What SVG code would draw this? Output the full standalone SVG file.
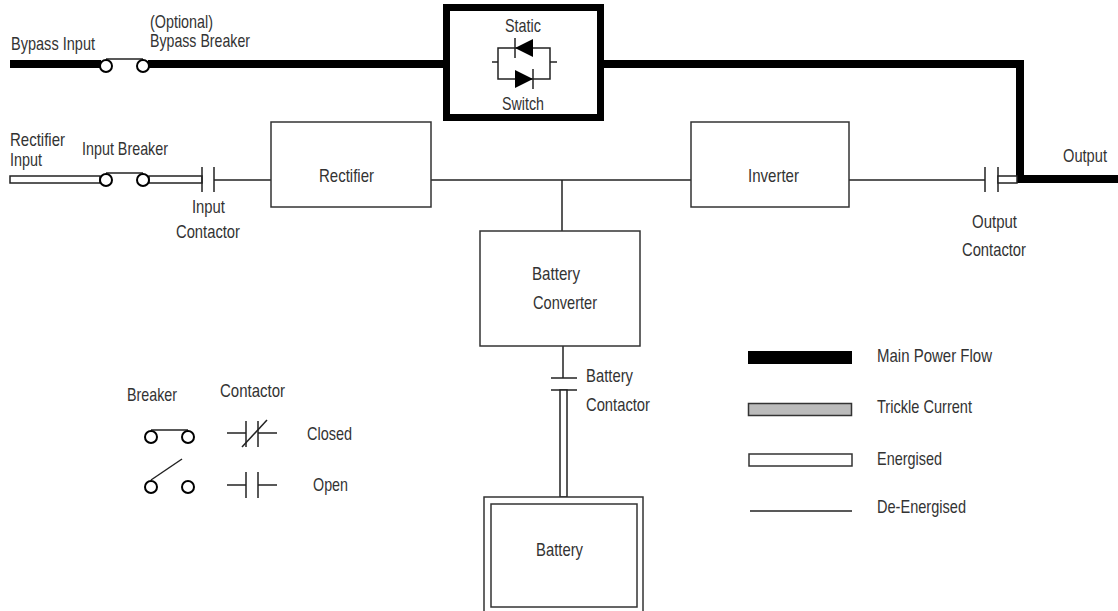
<svg xmlns="http://www.w3.org/2000/svg" width="1118" height="611" viewBox="0 0 1118 611">
<style>
text{font-family:"Liberation Sans",Arial,sans-serif;font-size:19px;fill:#333;}
.box{fill:#fff;stroke:#333;stroke-width:1.5;}
.thin{fill:none;stroke:#222;stroke-width:1.5;}
.main{fill:none;stroke:#000;stroke-width:8;}
.ener{fill:#fff;stroke:#222;stroke-width:1.5;}
.brk{fill:#fff;stroke:#000;stroke-width:2;}
.blk{fill:#000;stroke:none;}
</style>
<rect width="1118" height="611" fill="#fff"/>
<g id="connectors">
  <line class="main" x1="10" y1="64" x2="101" y2="64"/>
  <line class="main" x1="148" y1="64" x2="446" y2="64"/>
  <polyline class="main" points="602,64 1020,64 1020,179 1118,179"/>
  <rect class="ener" x="10" y="176" width="90" height="7"/>
  <rect class="ener" x="149" y="176" width="53" height="7"/>
  <line class="thin" x1="202" y1="167" x2="202" y2="192"/>
  <line class="thin" x1="214" y1="167" x2="214" y2="192"/>
  <line class="thin" x1="214" y1="180" x2="272" y2="180"/>
  <line class="thin" x1="431" y1="180" x2="691" y2="180"/>
  <line class="thin" x1="562" y1="180" x2="562" y2="231"/>
  <line class="thin" x1="849" y1="180" x2="985" y2="180"/>
  <line class="thin" x1="985" y1="167" x2="985" y2="192"/>
  <line class="thin" x1="998" y1="167" x2="998" y2="192"/>
  <rect class="ener" x="998" y="176" width="19" height="7"/>
  <line class="thin" x1="563" y1="346" x2="563" y2="378"/>
  <line class="thin" x1="551" y1="378" x2="577" y2="378"/>
  <line class="thin" x1="551" y1="390" x2="577" y2="390"/>
  <rect class="ener" x="560" y="390" width="7" height="107"/>
</g>
<g id="bypass-breaker">
  <line class="thin" x1="106" y1="59" x2="143" y2="59"/>
  <circle class="brk" cx="106" cy="66" r="6"/>
  <circle class="brk" cx="143" cy="66" r="6"/>
</g>
<g id="input-breaker">
  <line class="thin" x1="106" y1="173" x2="143" y2="173"/>
  <circle class="brk" cx="106" cy="180" r="6"/>
  <circle class="brk" cx="143" cy="180" r="6"/>
</g>
<g id="static-switch">
  <rect x="446.5" y="7.5" width="154" height="110" fill="#fff" stroke="#000" stroke-width="7"/>
  <text x="505" y="31.5" textLength="36" lengthAdjust="spacingAndGlyphs">Static</text>
  <text x="502" y="110" textLength="42" lengthAdjust="spacingAndGlyphs">Switch</text>
  <rect class="thin" x="498" y="48" width="52" height="31"/>
  <line class="thin" x1="492" y1="62" x2="498" y2="62"/>
  <line class="thin" x1="550" y1="62" x2="557" y2="62"/>
  <polygon class="blk" points="515,48 533,39 533,57"/>
  <line class="thin" x1="515" y1="38" x2="515" y2="58"/>
  <polygon class="blk" points="515,70 515,88 533,79"/>
  <line class="thin" x1="533" y1="69" x2="533" y2="89"/>
</g>
<g id="rectifier">
  <rect class="box" x="271" y="122" width="160" height="85"/>
  <text x="319" y="182" textLength="55" lengthAdjust="spacingAndGlyphs">Rectifier</text>
</g>
<g id="inverter">
  <rect class="box" x="691" y="122" width="158" height="85"/>
  <text x="748" y="182" textLength="51" lengthAdjust="spacingAndGlyphs">Inverter</text>
</g>
<g id="battery-converter">
  <rect class="box" x="480" y="231" width="160" height="115"/>
  <text x="532" y="280" textLength="48" lengthAdjust="spacingAndGlyphs">Battery</text>
  <text x="533" y="309" textLength="64" lengthAdjust="spacingAndGlyphs">Converter</text>
</g>
<g id="battery">
  <rect class="box" x="484" y="497" width="159" height="120"/>
  <rect class="box" x="491" y="504" width="146" height="103"/>
  <text x="536" y="556" textLength="47" lengthAdjust="spacingAndGlyphs">Battery</text>
</g>
<g id="labels">
  <text x="11" y="50" textLength="84" lengthAdjust="spacingAndGlyphs">Bypass Input</text>
  <text x="150" y="28" textLength="63" lengthAdjust="spacingAndGlyphs">(Optional)</text>
  <text x="150" y="47" textLength="100" lengthAdjust="spacingAndGlyphs">Bypass Breaker</text>
  <text x="10" y="146" textLength="55" lengthAdjust="spacingAndGlyphs">Rectifier</text>
  <text x="10" y="166" textLength="32" lengthAdjust="spacingAndGlyphs">Input</text>
  <text x="82" y="155" textLength="86" lengthAdjust="spacingAndGlyphs">Input Breaker</text>
  <text x="192" y="213" textLength="33" lengthAdjust="spacingAndGlyphs">Input</text>
  <text x="176" y="238" textLength="64" lengthAdjust="spacingAndGlyphs">Contactor</text>
  <text x="1063" y="161.5" textLength="44" lengthAdjust="spacingAndGlyphs">Output</text>
  <text x="972" y="228" textLength="45" lengthAdjust="spacingAndGlyphs">Output</text>
  <text x="962" y="256" textLength="64" lengthAdjust="spacingAndGlyphs">Contactor</text>
  <text x="586" y="382" textLength="47" lengthAdjust="spacingAndGlyphs">Battery</text>
  <text x="586" y="411" textLength="64" lengthAdjust="spacingAndGlyphs">Contactor</text>
</g>
<g id="legend-switches">
  <text x="127" y="401" textLength="50" lengthAdjust="spacingAndGlyphs">Breaker</text>
  <text x="220" y="397" textLength="65" lengthAdjust="spacingAndGlyphs">Contactor</text>
  <line class="thin" x1="151" y1="430" x2="188" y2="430"/>
  <circle class="brk" cx="151" cy="437" r="6"/>
  <circle class="brk" cx="188" cy="437" r="6"/>
  <line class="thin" x1="227" y1="433" x2="246" y2="433"/>
  <line class="thin" x1="246" y1="421" x2="246" y2="447"/>
  <line class="thin" x1="258" y1="421" x2="258" y2="447"/>
  <line class="thin" x1="258" y1="433" x2="277" y2="433"/>
  <line class="thin" x1="242" y1="447" x2="267" y2="420"/>
  <text x="307" y="440" textLength="45" lengthAdjust="spacingAndGlyphs">Closed</text>
  <line class="thin" x1="151" y1="480" x2="182" y2="459"/>
  <circle class="brk" cx="151" cy="487" r="6"/>
  <circle class="brk" cx="188" cy="487" r="6"/>
  <line class="thin" x1="227" y1="485" x2="246" y2="485"/>
  <line class="thin" x1="246" y1="472" x2="246" y2="498"/>
  <line class="thin" x1="258" y1="472" x2="258" y2="498"/>
  <line class="thin" x1="258" y1="485" x2="277" y2="485"/>
  <text x="313" y="491" textLength="35" lengthAdjust="spacingAndGlyphs">Open</text>
</g>
<g id="legend-lines">
  <rect x="748" y="351" width="104" height="13" fill="#000"/>
  <text x="877" y="362" textLength="115" lengthAdjust="spacingAndGlyphs">Main Power Flow</text>
  <rect x="748.5" y="403.5" width="103" height="12" fill="#bbb" stroke="#333" stroke-width="1.5"/>
  <text x="877" y="413" textLength="95" lengthAdjust="spacingAndGlyphs">Trickle Current</text>
  <rect x="749" y="454" width="103" height="12" fill="#fff" stroke="#333" stroke-width="1.5"/>
  <text x="877" y="465" textLength="65" lengthAdjust="spacingAndGlyphs">Energised</text>
  <line class="thin" x1="750" y1="511" x2="852" y2="511"/>
  <text x="877" y="513" textLength="89" lengthAdjust="spacingAndGlyphs">De-Energised</text>
</g>
</svg>
